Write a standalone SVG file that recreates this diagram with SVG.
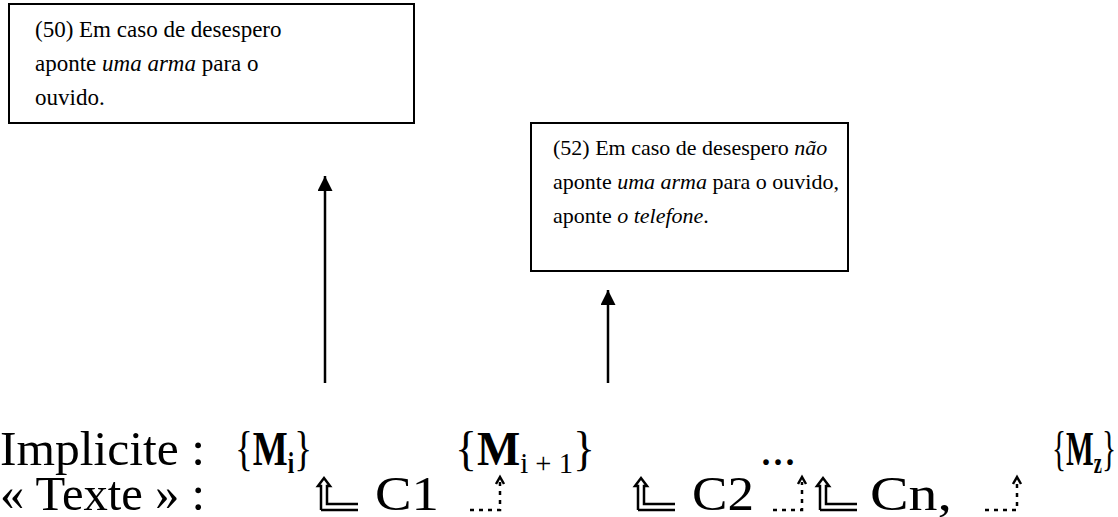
<svg xmlns="http://www.w3.org/2000/svg" width="1118" height="517" viewBox="0 0 1118 517">
<defs>
<style>
.box{fill:#fff;stroke:#000;stroke-width:2}
.lbl{font-family:"Liberation Serif","Times New Roman",serif;fill:#000}
.it{font-family:"Liberation Serif",serif;font-style:italic}
.big{font-family:"Liberation Serif","Times New Roman",serif;font-size:48px;fill:#000}
.sub{font-size:30px}
.conn{stroke:#000;stroke-width:2.5;fill:none}
.sym{stroke:#000;stroke-width:2.5;fill:none}
.dash{stroke:#000;stroke-width:2.5;fill:none;stroke-dasharray:4 5}
</style>
<marker id="ah" viewBox="0 0 10 10" refX="10" refY="5" markerWidth="6" markerHeight="6" markerUnits="strokeWidth" orient="auto">
<path d="M0,0 L10,5 L0,10 z" fill="#000"/>
</marker>
</defs>
<rect width="1118" height="517" fill="#fff"/>
<g id="node-50" font-family="Liberation Serif, serif" font-size="23">
<rect class="box" x="9" y="4" width="405" height="119"/>
<text class="lbl" x="35" y="37">(50) Em caso de desespero</text>
<text class="lbl" x="35" y="71">aponte <tspan class="it">uma arma</tspan> para o</text>
<text class="lbl" x="35" y="105">ouvido.</text>
</g>
<g id="node-52" font-family="Liberation Serif, serif" font-size="22">
<rect class="box" x="531" y="123" width="317" height="148"/>
<text class="lbl" x="553" y="155">(52) Em caso de desespero <tspan class="it">não</tspan></text>
<text class="lbl" x="553" y="189">aponte <tspan class="it">uma arma</tspan> para o ouvido,</text>
<text class="lbl" x="553" y="223">aponte <tspan class="it">o telefone</tspan>.</text>
</g>
<g id="connectors">
<line class="conn" x1="325" y1="383" x2="325" y2="176" marker-end="url(#ah)"/>
<line class="conn" x1="608" y1="383" x2="608" y2="290" marker-end="url(#ah)"/>
</g>
<g id="implicite" font-family="Liberation Serif, serif">
<text class="big" x="0" y="465" textLength="205" lengthAdjust="spacingAndGlyphs">Implicite :</text>
<text class="big" x="235" y="465" textLength="77" lengthAdjust="spacingAndGlyphs">{<tspan font-weight="bold">M</tspan><tspan class="sub" font-weight="bold" dy="8">i</tspan><tspan dy="-8">}</tspan></text>
<text class="big" x="455" y="465" textLength="140" lengthAdjust="spacingAndGlyphs">{<tspan font-weight="bold">M</tspan><tspan class="sub" dy="8">i + 1</tspan><tspan dy="-8">}</tspan></text>
<text class="big" x="760" y="465">...</text>
<text class="big" x="1052" y="465" textLength="64" lengthAdjust="spacingAndGlyphs">{<tspan font-weight="bold">M</tspan><tspan class="sub" font-weight="bold" dy="8">z</tspan><tspan dy="-8">}</tspan></text>
</g>
<g id="texte" font-family="Liberation Serif, serif">
<text class="big" x="0" y="510" textLength="205" lengthAdjust="spacingAndGlyphs">« Texte » :</text>
<path class="sym" d="M321,510 V486 H318 L324,478 L330,486 H327 V504 H358 M321,510 H358"/>
<text class="big" x="375" y="510" textLength="64" lengthAdjust="spacingAndGlyphs">C1</text>
<path class="dash" d="M470,510 H500 V482"/>
<path d="M496,484 L500,477 L504,484" class="sym" stroke-width="2"/>
<path class="sym" d="M638,510 V486 H635 L641,478 L647,486 H644 V504 H675 M638,510 H675"/>
<text class="big" x="692" y="510" textLength="62" lengthAdjust="spacingAndGlyphs">C2</text>
<path class="dash" d="M773,510 H802 V482"/>
<path d="M798,484 L802,477 L806,484" class="sym" stroke-width="2"/>
<path class="sym" d="M820,510 V486 H817 L823,478 L829,486 H826 V504 H857 M820,510 H857"/>
<text class="big" x="870" y="510" textLength="82" lengthAdjust="spacingAndGlyphs">Cn,</text>
<path class="dash" d="M985,510 H1017 V482"/>
<path d="M1013,484 L1017,477 L1021,484" class="sym" stroke-width="2"/>
</g>
</svg>
